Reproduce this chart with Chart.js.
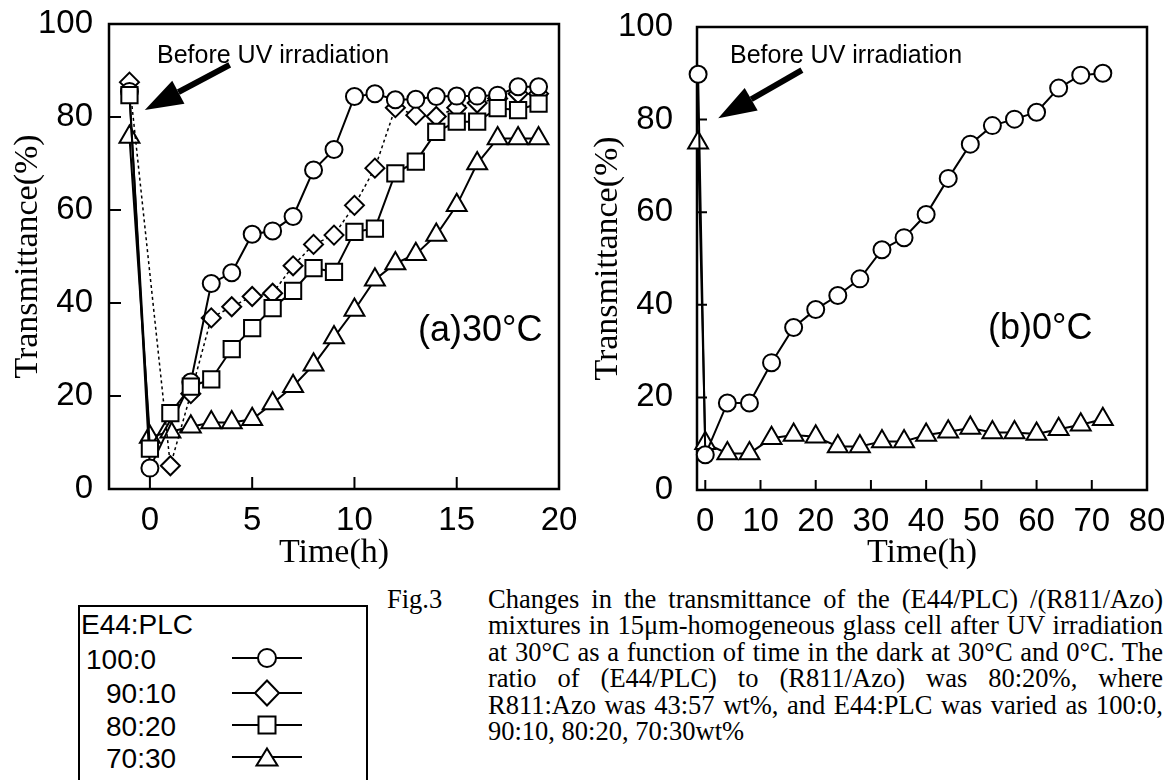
<!DOCTYPE html>
<html lang="en">
<head>
<meta charset="UTF-8" />
<title>Transmittance after UV irradiation</title>
<script src="https://cdn.jsdelivr.net/npm/chart.js"></script>
<style>
  body { margin: 0; width: 1166px; height: 780px; background: #fff; position: relative; overflow: hidden; color: #000; }
  canvas { position: absolute; top: 0; }
  .t { position: absolute; white-space: nowrap; line-height: 1; font-family: "Liberation Sans", Arial, sans-serif; }
  .serif { font-family: "Liberation Serif", "Times New Roman", serif; }
  #legendBox { position: absolute; left: 78px; top: 605px; width: 290px; height: 200px; border: 2px solid #000; box-sizing: border-box; }
  #caption { position: absolute; left: 488px; top: 586px; width: 675px; font-family: "Liberation Serif", "Times New Roman", serif; font-size: 26.5px; line-height: 26.4px; }
  #caption .j { text-align: justify; text-align-last: justify; }
</style>
</head>
<body>
<canvas id="chartA" width="580" height="580" style="left:0"></canvas>
<canvas id="chartB" width="576" height="580" style="left:590px"></canvas>

<div class="t" style="left:157px;top:42px;font-size:25px">Before UV irradiation</div>
<div class="t" style="left:730px;top:42px;font-size:25px">Before UV irradiation</div>
<div class="t" style="left:418px;top:311px;font-size:36px">(a)30°C</div>
<div class="t" style="left:988px;top:309px;font-size:36px">(b)0°C</div>

<div id="legendBox"></div>
<div class="t" style="left:81px;top:611px;font-size:28px">E44:PLC</div>
<div class="t" style="left:86px;top:646px;font-size:28px">100:0</div>
<div class="t" style="left:106px;top:680px;font-size:28px">90:10</div>
<div class="t" style="left:106px;top:713px;font-size:28px">80:20</div>
<div class="t" style="left:106px;top:745px;font-size:28px">70:30</div>
<svg style="position:absolute;left:225px;top:640px" width="90" height="135">
  <g stroke="#000" stroke-width="2" fill="#fff">
    <line x1="7" y1="18" x2="77" y2="18" />
    <circle cx="42" cy="18" r="9" />
    <line x1="7" y1="53" x2="77" y2="53" />
    <polygon points="42,40.5 54,53 42,65.5 30,53" />
    <line x1="7" y1="85" x2="77" y2="85" />
    <rect x="33.5" y="76.5" width="17" height="17" />
    <line x1="7" y1="117" x2="77" y2="117" />
    <polygon points="42,108.5 52.5,125.5 31.5,125.5" />
  </g>
</svg>

<div class="t serif" style="left:387px;top:586px;font-size:26.5px">Fig.3</div>
<div id="caption">
  <div class="j">Changes in the transmittance of the (E44/PLC) /(R811/Azo)</div>
  <div class="j">mixtures in 15μm-homogeneous glass cell after UV irradiation</div>
  <div class="j">at 30°C as a function of time in the dark at 30°C and 0°C. The</div>
  <div class="j">ratio of (E44/PLC) to (R811/Azo) was 80:20%, where</div>
  <div class="j">R811:Azo was 43:57 wt%, and E44:PLC was varied as 100:0,</div>
  <div>90:10, 80:20, 70:30wt%</div>
</div>

<script>
// (a) 30°C, first value is the reading before UV irradiation
const hoursA = [-1, 0, 1, 2, 3, 4, 5, 6, 7, 8, 9, 10, 11, 12, 13, 14, 15, 16, 17, 18, 19];
const plc0A = [85.5, 4.5, null, 23, 44.2, 46.5, 54.8, 55.5, 58.6, 68.6, 73, 84.4, 85, 83.7, 83.8, 84.4, 84.5, 84.5, 84.7, 86.5, 86.5];
const plc10A = [87.5, null, 5, 20.5, 36.8, 39.2, 41.4, 42.1, 48, 52.6, 54.6, 61, 69, 82, 80.4, 80.1, 82, 83, 84, 85, 85];
const plc20A = [84.7, 8.7, 16.3, 22, 23.6, 30.1, 34.6, 38.9, 42.6, 47.5, 46.7, 55.3, 56, 67.9, 70.4, 76.8, 79, 79, 81.9, 81.5, 82.9];
const plc30A = [75.7, 11.2, 12.3, 13.4, 14.3, 14.3, 15, 18.4, 22.1, 26.7, 32.6, 38.5, 45, 48.5, 50.5, 54.6, 61, 70, 75.4, 75.4, 75.4];

// (b) 0°C
const hoursB = [-1.3, 0, 4, 8, 12, 16, 20, 24, 28, 32, 36, 40, 44, 48, 52, 56, 60, 64, 68, 72];
const plc0B = [89.8, 7.6, 18.8, 18.8, 27.5, 35.1, 39, 42, 45.6, 51.9, 54.5, 59.5, 67.3, 74.7, 78.7, 80.1, 81.6, 86.8, 89.6, 90];
const plc30B = [75, 10.1, 7.9, 7.9, 11.2, 11.9, 11.5, 9.4, 9.4, 10.5, 10.5, 11.9, 12.6, 13.4, 12.4, 12.4, 12.1, 13.1, 14.1, 15.3];

const xTicksA = [0, 5, 10, 15, 20];
const xTicksB = [0, 10, 20, 30, 40, 50, 60, 70, 80];
const yTicks = [0, 20, 40, 60, 80, 100];

function pts(xs, ys) {
  return xs.map((x, i) => ({ x: x, y: ys[i] })).filter((p) => p.y != null);
}

function series(xs, ys, style, radius, order, dashed) {
  return {
    data: pts(xs, ys),
    showLine: true,
    order: order,
    clip: false,
    borderColor: "#000",
    borderWidth: dashed ? 1.5 : 2,
    borderDash: dashed ? [3, 3] : [],
    pointStyle: style,
    pointRadius: radius,
    pointBackgroundColor: "#fff",
    pointBorderColor: "#000",
    pointBorderWidth: 2,
  };
}

function drawArrow(ctx, x0, y0, x1, y1) {
  const ang = Math.atan2(y1 - y0, x1 - x0);
  const head = 38, half = 13;
  const bx = x1 - head * Math.cos(ang), by = y1 - head * Math.sin(ang);
  ctx.lineWidth = 6;
  ctx.beginPath();
  ctx.moveTo(x0, y0);
  ctx.lineTo(bx, by);
  ctx.stroke();
  ctx.beginPath();
  ctx.moveTo(x1, y1);
  ctx.lineTo(bx + half * Math.sin(ang), by - half * Math.cos(ang));
  ctx.lineTo(bx - half * Math.sin(ang), by + half * Math.cos(ang));
  ctx.closePath();
  ctx.fill();
}

// box frame, inward ticks and the "before UV" arrow
const frameTicks = {
  id: "frameTicks",
  beforeDatasetsDraw(chart, args, opts) {
    const { ctx, chartArea: a, scales: { x, y } } = chart;
    ctx.save();
    ctx.strokeStyle = "#000";
    ctx.lineWidth = 2.5;
    ctx.strokeRect(a.left, a.top, a.right - a.left, a.bottom - a.top);
    ctx.lineWidth = 2;
    ctx.beginPath();
    y.ticks.forEach((t) => {
      const py = y.getPixelForValue(t.value);
      ctx.moveTo(a.left, py);
      ctx.lineTo(a.left + opts.len, py);
    });
    x.ticks.forEach((t) => {
      const px = x.getPixelForValue(t.value);
      ctx.moveTo(px, a.bottom);
      ctx.lineTo(px, a.bottom - opts.len);
    });
    ctx.stroke();
    ctx.restore();
  },
  afterDatasetsDraw(chart, args, opts) {
    const { ctx, scales: { x, y } } = chart;
    const [t0, v0, t1, v1] = opts.arrow;
    ctx.save();
    ctx.strokeStyle = "#000";
    ctx.fillStyle = "#000";
    drawArrow(ctx, x.getPixelForValue(t0), y.getPixelForValue(v0), x.getPixelForValue(t1), y.getPixelForValue(v1));
    ctx.restore();
  },
};

function makeChart(id, datasets, cfg) {
  return new Chart(document.getElementById(id), {
    type: "scatter",
    data: { datasets: datasets },
    options: {
      responsive: false,
      animation: false,
      events: [],
      layout: { padding: cfg.pad },
      plugins: {
        legend: { display: false },
        tooltip: { enabled: false },
        frameTicks: { len: cfg.tick, arrow: cfg.arrow },
      },
      scales: {
        x: {
          type: "linear",
          min: cfg.xmin,
          max: cfg.xmax,
          afterBuildTicks: (s) => { s.ticks = cfg.xTicks.map((v) => ({ value: v })); },
          afterFit: (s) => { s.height = cfg.xh; s.paddingLeft = 0; s.paddingRight = 0; },
          grid: { display: false, drawTicks: false },
          border: { display: false },
          ticks: { color: "#000", font: { family: "Liberation Sans", size: 33 }, padding: 12, maxRotation: 0, autoSkip: false },
          title: { display: true, text: "Time(h)", color: "#000", font: { family: "Liberation Serif", size: 34, lineHeight: 1 }, padding: { top: 0, bottom: 10 } },
        },
        y: {
          min: 0,
          max: 100,
          afterBuildTicks: (s) => { s.ticks = yTicks.map((v) => ({ value: v })); },
          afterFit: (s) => { s.width = cfg.yw; s.paddingTop = 0; s.paddingBottom = 0; },
          grid: { display: false, drawTicks: false },
          border: { display: false },
          ticks: { color: "#000", font: { family: "Liberation Sans", size: 33 }, padding: cfg.ypad },
          title: { display: true, text: "Transmittance(%)", color: "#000", font: { family: "Liberation Serif", size: 34, lineHeight: 1 }, padding: { top: cfg.tpad, bottom: 0 } },
        },
      },
    },
    plugins: [frameTicks],
  });
}

makeChart("chartA", [
  series(hoursA, plc20A, "rect", 11.5, 1, false),
  series(hoursA, plc0A, "circle", 8.5, 2, false),
  series(hoursA, plc10A, "rectRot", 9.5, 3, true),
  series(hoursA, plc30A, "triangle", 11.5, 4, false),
], {
  pad: { left: 0, top: 24, right: 21, bottom: 0 },
  xmin: -2, xmax: 20, xTicks: xTicksA,
  xh: 91, yw: 109, ypad: 16, tpad: 11, tick: 12,
  arrow: [3.9, 91.2, -0.25, 81.5],
});

makeChart("chartB", [
  series(hoursB, plc0B, "circle", 8.5, 1, false),
  series(hoursB, plc30B, "triangle", 11.5, 2, false),
], {
  pad: { left: 0, top: 27, right: 19, bottom: 0 },
  xmin: -1.5, xmax: 80, xTicks: xTicksB,
  xh: 90, yw: 107, ypad: 24, tpad: 1, tick: 10,
  arrow: [17.5, 90.7, 2.35, 80.3],
});
</script>
</body>
</html>
